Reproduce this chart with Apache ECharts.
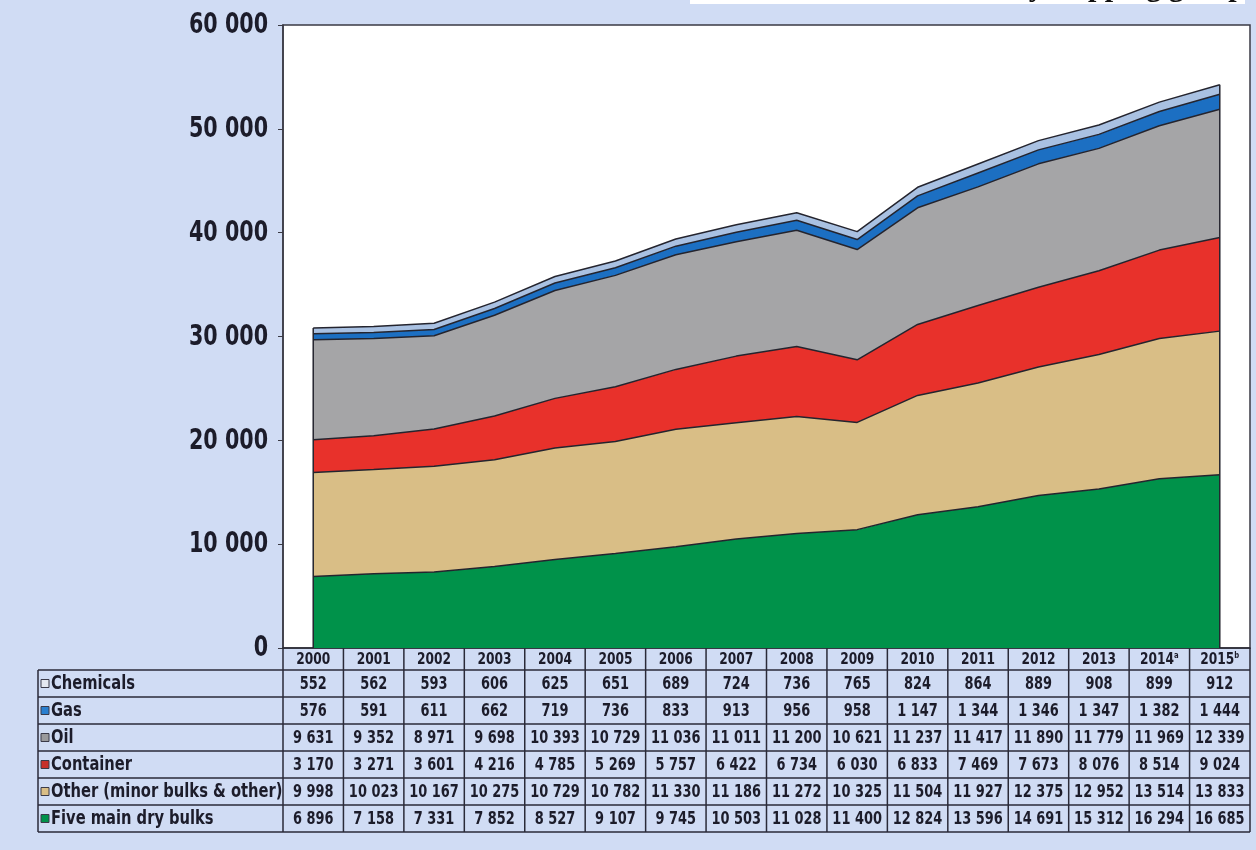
<!DOCTYPE html>
<html>
<head>
<meta charset="utf-8">
<script src="https://cdn.jsdelivr.net/npm/echarts@6/dist/echarts.min.js"></script>
<style>
  html, body { margin: 0; padding: 0; background: #d0dcf4; }
  #chart { width: 1256px; height: 850px; }
</style>
</head>
<body>
<div id="chart"></div>
<script>
// Seaborne trade by cargo type, 2000–2015
const years = ['2000','2001','2002','2003','2004','2005','2006','2007','2008','2009','2010','2011','2012','2013','2014','2015'];
const yearNotes = { '2014': 'a', '2015': 'b' };

const chemicals        = [552, 562, 593, 606, 625, 651, 689, 724, 736, 765, 824, 864, 889, 908, 899, 912];
const gas              = [576, 591, 611, 662, 719, 736, 833, 913, 956, 958, 1147, 1344, 1346, 1347, 1382, 1444];
const oil              = [9631, 9352, 8971, 9698, 10393, 10729, 11036, 11011, 11200, 10621, 11237, 11417, 11890, 11779, 11969, 12339];
const container        = [3170, 3271, 3601, 4216, 4785, 5269, 5757, 6422, 6734, 6030, 6833, 7469, 7673, 8076, 8514, 9024];
const otherBulks       = [9998, 10023, 10167, 10275, 10729, 10782, 11330, 11186, 11272, 10325, 11504, 11927, 12375, 12952, 13514, 13833];
const fiveMainDryBulks = [6896, 7158, 7331, 7852, 8527, 9107, 9745, 10503, 11028, 11400, 12824, 13596, 14691, 15312, 16294, 16685];

const yTickValues = [0, 10000, 20000, 30000, 40000, 50000, 60000];

// stacking order, bottom to top
const layers = [
  { name: 'Five main dry bulks',          data: fiveMainDryBulks, color: '#00924a' },
  { name: 'Other (minor bulks & other)',  data: otherBulks,       color: '#d9be86' },
  { name: 'Container',                    data: container,        color: '#e8312b' },
  { name: 'Oil',                          data: oil,              color: '#a5a5a7' },
  { name: 'Gas',                          data: gas,              color: '#1c6fc2' },
  { name: 'Chemicals',                    data: chemicals,        color: '#a9c1e2' }
];
// table rows, top to bottom
const tableRows = [
  { name: 'Chemicals', data: chemicals, icon: '#e4e8f0' },
  { name: 'Gas', data: gas, icon: '#2a7fcf' },
  { name: 'Oil', data: oil, icon: '#9a9a9c' },
  { name: 'Container', data: container, icon: '#c8302a' },
  { name: 'Other (minor bulks & other)', data: otherBulks, icon: '#d9be86' },
  { name: 'Five main dry bulks', data: fiveMainDryBulks, icon: '#00924a' }
];

const NARROW = "'Liberation Sans Narrow', 'Arial Narrow', 'DejaVu Sans Condensed', sans-serif";
const INK = '#1c1c2a';
const EDGE = '#24242e';

function spaced(v) {
  return String(v).replace(/\B(?=(\d{3})+(?!\d))/g, ' ');
}

const chart = echarts.init(document.getElementById('chart'), null, { renderer: 'canvas' });

const option = {
  backgroundColor: '#d0dcf4',
  animation: false,
  grid: {
    left: 283, right: 6, top: 25, bottom: 202,
    show: true, backgroundColor: '#ffffff', borderColor: '#3a3a44', borderWidth: 1.5
  },
  xAxis: {
    type: 'category',
    data: years,
    boundaryGap: true,
    axisLine: { lineStyle: { color: '#2a2a34', width: 1.5 } },
    axisTick: { show: false },
    axisLabel: { show: false },
    splitLine: { show: false }
  },
  yAxis: {
    type: 'value',
    min: yTickValues[0], max: yTickValues[yTickValues.length - 1],
    interval: yTickValues[1] - yTickValues[0],
    axisLine: { show: true, lineStyle: { color: '#3a3a44', width: 1.5 } },
    axisTick: { show: true, length: 5, lineStyle: { color: '#3a3a44', width: 1 } },
    axisLabel: { show: false },
    splitLine: { show: false }
  },
  series: layers.map(l => ({
    name: l.name,
    type: 'line',
    stack: 'total',
    data: l.data,
    symbol: 'none',
    smooth: false,
    lineStyle: { color: EDGE, width: 1.5 },
    areaStyle: { color: l.color, opacity: 1 },
    z: 2
  }))
};

chart.setOption(option);

const totals = years.map((_, i) => layers.reduce((s, l) => s + l.data[i], 0));
const gridLeft = 283, gridRight = 1250;
const colW = (gridRight - gridLeft) / years.length;
const headTop = 648, headH = 22, rowTop = 670, rowH = 27;
const tableLeft = 38;
const tableBottom = rowTop + rowH * tableRows.length;

const g = [];

// value axis labels, condensed
yTickValues.forEach(v => {
  const py = chart.convertToPixel({ yAxisIndex: 0 }, v);
  g.push({ type: 'text', x: 268, y: py + 1, scaleX: 0.82,
    style: { text: spaced(v), fontFamily: NARROW, fontWeight: 'bold', fontSize: 28, fill: INK,
      align: 'right', verticalAlign: 'middle' }, z: 20 });
});

// vertical edges at first and last year
[0, years.length - 1].forEach(i => {
  const p0 = chart.convertToPixel({ gridIndex: 0 }, [i, 0]);
  const p1 = chart.convertToPixel({ gridIndex: 0 }, [i, totals[i]]);
  g.push({ type: 'line', shape: { x1: p0[0], y1: p0[1], x2: p1[0], y2: p1[1] },
    style: { stroke: EDGE, lineWidth: 1.5 }, z: 10 });
});

// header cells (years)
years.forEach((y, i) => {
  const cx = chart.convertToPixel({ xAxisIndex: 0 }, y);
  const note = yearNotes[y];
  g.push({
    type: 'text', x: cx, y: headTop + headH / 2 + 1, scaleX: 0.85,
    style: {
      text: note ? '{y|' + y + '}{s|' + note + '}' : '{y|' + y + '}',
      align: 'center', verticalAlign: 'middle',
      rich: {
        y: { fontFamily: NARROW, fontWeight: 'bold', fontSize: 16, fill: INK },
        s: { fontFamily: NARROW, fontWeight: 'bold', fontSize: 9, fill: INK, padding: [0, 0, 8, 0] }
      }
    }, z: 20
  });
});

// data rows
tableRows.forEach((r, ri) => {
  const yc = rowTop + rowH * ri + rowH / 2 + 1;
  g.push({ type: 'rect', shape: { x: tableLeft + 3, y: yc - 5, width: 8, height: 8 },
    style: { fill: r.icon, stroke: '#3a3a48', lineWidth: 1 }, z: 20 });
  g.push({ type: 'text', x: tableLeft + 13, y: yc, scaleX: 0.86,
    style: { text: r.name, fontFamily: NARROW, fontWeight: 'bold', fontSize: 19, fill: INK,
      align: 'left', verticalAlign: 'middle' }, z: 20 });
  r.data.forEach((v, i) => {
    const cx = chart.convertToPixel({ xAxisIndex: 0 }, years[i]);
    g.push({ type: 'text', x: cx, y: yc, scaleX: 0.8,
      style: { text: spaced(v), fontFamily: NARROW, fontWeight: 'bold', fontSize: 18, fill: INK,
        align: 'center', verticalAlign: 'middle' }, z: 20 });
  });
});

// table rules
for (let k = 0; k <= tableRows.length; k++) {
  const y = rowTop + rowH * k;
  g.push({ type: 'line', shape: { x1: tableLeft, y1: y, x2: gridRight, y2: y },
    style: { stroke: '#2a2a38', lineWidth: 1.5 }, z: 15 });
}
for (let i = 0; i <= years.length; i++) {
  const x = gridLeft + colW * i;
  g.push({ type: 'line', shape: { x1: x, y1: headTop, x2: x, y2: tableBottom },
    style: { stroke: '#2a2a38', lineWidth: 1.5 }, z: 15 });
}
g.push({ type: 'line', shape: { x1: tableLeft, y1: rowTop, x2: tableLeft, y2: tableBottom },
  style: { stroke: '#2a2a38', lineWidth: 1.5 }, z: 15 });

// strip of the page heading above the chart
g.push({ type: 'rect', shape: { x: 690, y: 0, width: 555, height: 4 }, style: { fill: '#ffffff' }, z: 1 });
g.push({ type: 'text', x: 1245, y: 3,
  style: { text: 'World seaborne trade by shipping group', fontFamily: "'Liberation Serif', serif",
    fontWeight: 'bold', fontSize: 30, fill: '#111', align: 'right', verticalAlign: 'bottom' }, z: 2 });

chart.setOption({ graphic: g });
</script>
</body>
</html>
